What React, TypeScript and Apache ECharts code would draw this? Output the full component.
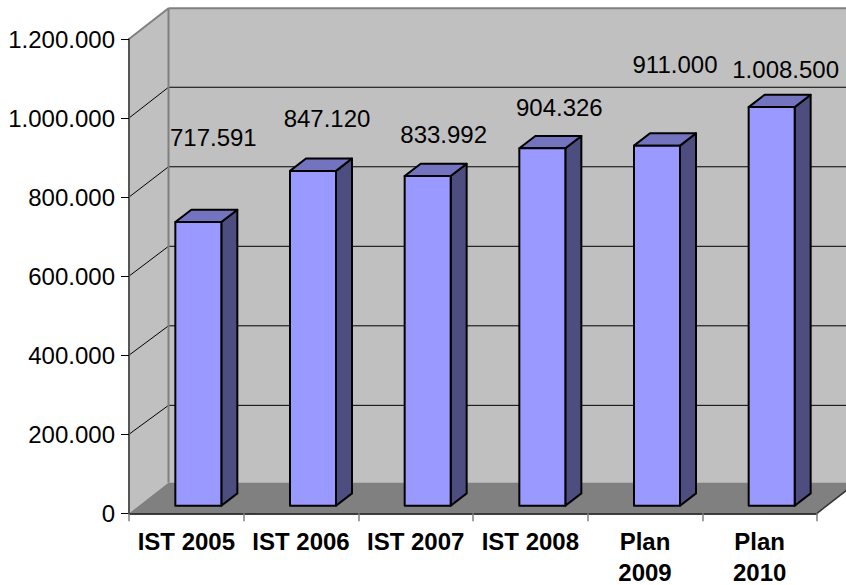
import React, { useEffect, useRef } from "react";
import * as echarts from "echarts";

const categories = ["IST 2005", "IST 2006", "IST 2007", "IST 2008", "Plan\n2009", "Plan\n2010"];
const values = [717591, 847120, 833992, 904326, 911000, 1008500];
const yTicks = [200000, 400000, 600000, 800000, 1000000, 1200000];
// hand-placed data label displacement from the bar's top-centre, as in the reference
const labelNudge = [[15, -85], [14, -52], [16, -42], [17, -41], [18, -81], [14, -38]];

const FONT = '"Liberation Sans", Arial, sans-serif';
const WALL_DX = 39.5;
const WALL_DY = -30.8;
const BAR_INSET_X = 12;
const BAR_INSET_Y = -7.6;
const BAR_WIDTH = 46;
const BAR_DX = 16;
const BAR_DY = -12.3;

const fmt = (v: number) => String(v).replace(/\B(?=(\d{3})+(?!\d))/g, ".");

function renderWalls(params: any, api: any) {
  const r = params.coordSys;
  const left = r.x;
  const right = r.x + r.width;
  const y0 = r.y + r.height;
  const top = r.y;
  const ln = (x1: number, y1: number, x2: number, y2: number, stroke: string, lineWidth: number) => ({
    type: "line",
    shape: { x1, y1, x2, y2 },
    style: { stroke, lineWidth, fill: "none" },
  });
  const children: any[] = [
    {
      type: "polygon",
      shape: { points: [[left + WALL_DX, top + WALL_DY], [right + WALL_DX, top + WALL_DY], [right + WALL_DX, y0 + WALL_DY], [left + WALL_DX, y0 + WALL_DY]] },
      style: { fill: "#c0c0c0" },
    },
    {
      type: "polygon",
      shape: { points: [[left, top], [left + WALL_DX, top + WALL_DY], [left + WALL_DX, y0 + WALL_DY], [left, y0]] },
      style: { fill: "#c0c0c0" },
    },
    {
      type: "polygon",
      shape: { points: [[left, y0], [right, y0], [right + WALL_DX, y0 + WALL_DY], [left + WALL_DX, y0 + WALL_DY]] },
      style: { fill: "#808080" },
    },
  ];
  yTicks.slice(0, -1).forEach((t) => {
    const y = api.coord([0, t])[1];
    // the back wall's gridlines sit slightly lower towards the floor in the reference
    const yBack = y + WALL_DY + 1.9 * (1 - (t - 200000) / 800000);
    children.push(ln(left, y, left + WALL_DX, yBack, "#000000", 1));
    children.push(ln(left + WALL_DX, yBack, right + WALL_DX, yBack, "#000000", 1));
  });
  children.push(ln(left + WALL_DX, top + WALL_DY, right + WALL_DX, top + WALL_DY, "#808080", 2));
  children.push(ln(left + WALL_DX, top + WALL_DY, left + WALL_DX, y0 + WALL_DY, "#808080", 2));
  children.push(ln(left, top, left + WALL_DX, top + WALL_DY, "#808080", 2));
  children.push(ln(right, y0, right + WALL_DX, y0 + WALL_DY, "#333333", 1.5));
  return { type: "group", children };
}

function renderBar(params: any, api: any) {
  const i = api.value(0);
  const v = api.value(1);
  const [cx, yTop] = api.coord([i, v]);
  const [, yBase] = api.coord([i, 0]);
  const x0 = cx + BAR_INSET_X - BAR_WIDTH / 2;
  const x1 = x0 + BAR_WIDTH;
  const yt = yTop + BAR_INSET_Y;
  const yb = yBase + BAR_INSET_Y;
  const edge = { stroke: "#000000", lineWidth: 2, lineJoin: "round" };
  const nudge = labelNudge[i];
  return {
    type: "group",
    children: [
      {
        type: "polygon",
        shape: { points: [[x1, yt], [x1 + BAR_DX, yt + BAR_DY], [x1 + BAR_DX, yb + BAR_DY], [x1, yb]] },
        style: { fill: "#4d4d80", ...edge },
      },
      {
        type: "polygon",
        shape: { points: [[x0, yt], [x0 + BAR_DX, yt + BAR_DY], [x1 + BAR_DX, yt + BAR_DY], [x1, yt]] },
        style: { fill: "#7373bf", ...edge },
      },
      {
        type: "rect",
        shape: { x: x0, y: yt, width: BAR_WIDTH, height: yb - yt },
        style: { fill: "#9999ff", ...edge },
      },
      {
        type: "text",
        x: (x0 + x1) / 2 + nudge[0],
        y: yt + nudge[1],
        style: {
          text: fmt(v),
          fill: "#000000",
          font: `24px ${FONT}`,
          align: "center",
          verticalAlign: "middle",
        },
      },
    ],
  };
}

export default function App() {
  const ref = useRef<HTMLDivElement>(null);
  useEffect(() => {
    document.body.style.margin = "0";
    const chart = echarts.init(ref.current!, null, { renderer: "svg" });
    chart.setOption({
      animation: false,
      backgroundColor: "#ffffff",
      grid: { left: 129, top: 39, width: 688, height: 474.3, containLabel: false, outerBoundsMode: "none" },
      xAxis: {
        type: "category",
        data: categories,
        z: 10,
        axisLine: { show: true, lineStyle: { color: "#000000", width: 1.5 } },
        axisTick: { show: true, length: 8, lineStyle: { color: "#808080", width: 1.5 } },
        axisLabel: {
          interval: 0,
          color: "#000000",
          fontFamily: FONT,
          fontSize: 24,
          fontWeight: "bold",
          lineHeight: 31,
          margin: 13,
        },
        splitLine: { show: false },
      },
      yAxis: {
        type: "value",
        min: 0,
        max: 1200000,
        interval: 200000,
        z: 10,
        axisLine: { show: true, lineStyle: { color: "#555555", width: 2 } },
        axisTick: { show: true, length: 8, lineStyle: { color: "#000000", width: 1 } },
        axisLabel: {
          color: "#000000",
          fontFamily: FONT,
          fontSize: 24,
          margin: 14,
          formatter: (v: number) => fmt(v),
        },
        splitLine: { show: false },
      },
      series: [
        { type: "custom", z: 1, clip: false, silent: true, data: [[0, 0]], renderItem: renderWalls },
        {
          type: "custom",
          z: 3,
          clip: false,
          data: values.map((v, i) => [i, v]),
          encode: { x: 0, y: 1 },
          renderItem: renderBar,
        },
      ],
    });
    return () => chart.dispose();
  }, []);
  return <div ref={ref} style={{ width: 846, height: 585 }} />;
}
